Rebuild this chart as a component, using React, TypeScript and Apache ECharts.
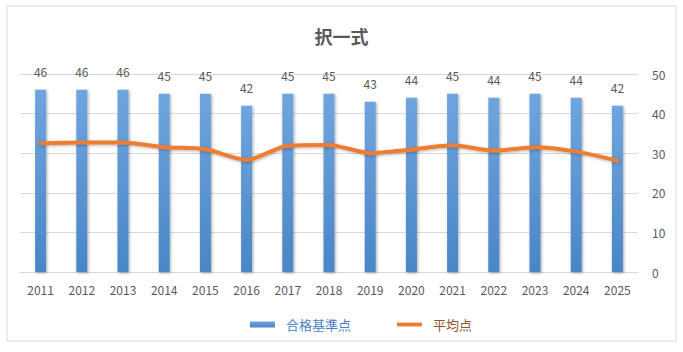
import React, { useEffect, useRef } from "react";
import * as echarts from "echarts";

const years = ["2011","2012","2013","2014","2015","2016","2017","2018","2019","2020","2021","2022","2023","2024","2025"];
const passScores = [46,46,46,45,45,42,45,45,43,44,45,44,45,44,42];
const averageScores = [32.5,32.7,32.7,31.5,31.0,28.3,31.9,32.1,30.0,30.9,32.0,30.6,31.5,30.4,28.1];
const titleText = "択一式";
const barName = "合格基準点";
const lineName = "平均点";

const FONT = "'Noto Sans CJK JP', 'Noto Sans', sans-serif";

export default function App() {
  const ref = useRef<HTMLDivElement>(null);
  useEffect(() => {
    if (!ref.current) return;
    const chart = echarts.init(ref.current, null, { renderer: "svg" });
    chart.setOption({
      animation: false,
      backgroundColor: "#ffffff",
      textStyle: { fontFamily: FONT },
      graphic: [
        {
          type: "rect",
          shape: { x: 7, y: 6, width: 669, height: 335 },
          style: { fill: "none", stroke: "#d9d9d9", lineWidth: 1 },
          silent: true,
        },
      ],
      title: {
        text: titleText,
        left: "center",
        top: 22,
        textStyle: { fontFamily: FONT, fontSize: 18, fontWeight: "bold", color: "#595959" },
      },
      legend: {
        left: 245,
        top: 313,
        itemWidth: 25,
        itemHeight: 6,
        itemGap: 46,
        textStyle: { fontFamily: FONT, fontSize: 13, padding: [0, 0, 0, 6] },
        data: [
          { name: barName, icon: "rect", textStyle: { color: "#4a7fbf" } },
          { name: lineName, icon: "path://M0,1 L26,1 L26,5 L0,5 Z", textStyle: { color: "#8b5530" } },
        ],
      },
      grid: { left: 20, right: 45, top: 74, bottom: 80 },
      xAxis: {
        type: "category",
        data: years,
        axisLine: { lineStyle: { color: "#d9d9d9" } },
        axisTick: { show: false },
        axisLabel: { color: "#595959", fontSize: 12, margin: 11, fontFamily: FONT },
      },
      yAxis: {
        type: "value",
        position: "right",
        min: 0,
        max: 50,
        interval: 10,
        axisLine: { show: false },
        axisTick: { show: false },
        axisLabel: { color: "#595959", fontSize: 12, margin: 14, fontFamily: FONT },
        splitLine: { lineStyle: { color: "#d9d9d9" } },
      },
      series: [
        {
          name: barName,
          type: "bar",
          data: passScores,
          barWidth: 11,
          itemStyle: {
            color: new echarts.graphic.LinearGradient(0, 0, 0, 1, [
              { offset: 0, color: "#6fa5de" },
              { offset: 1, color: "#4a86c6" },
            ]),
            shadowColor: "rgba(0,0,0,0.35)",
            shadowBlur: 3,
            shadowOffsetX: 1,
            shadowOffsetY: 1,
          },
          label: {
            show: true,
            position: "top",
            distance: 12,
            color: "#595959",
            fontSize: 12,
            fontFamily: FONT,
          },
        },
        {
          name: lineName,
          type: "line",
          data: averageScores,
          smooth: 0.25,
          showSymbol: false,
          symbol: "none",
          lineStyle: {
            color: "#ed7d31",
            width: 4,
            cap: "round",
            shadowColor: "rgba(0,0,0,0.3)",
            shadowBlur: 3,
            shadowOffsetX: 1,
            shadowOffsetY: 1,
          },
          itemStyle: { color: "#ed7d31" },
          z: 5,
        },
      ],
    });
    return () => chart.dispose();
  }, []);
  return (
    <div
      ref={ref}
      style={{ position: "absolute", left: 0, top: 0, width: 683, height: 352 }}
    />
  );
}
